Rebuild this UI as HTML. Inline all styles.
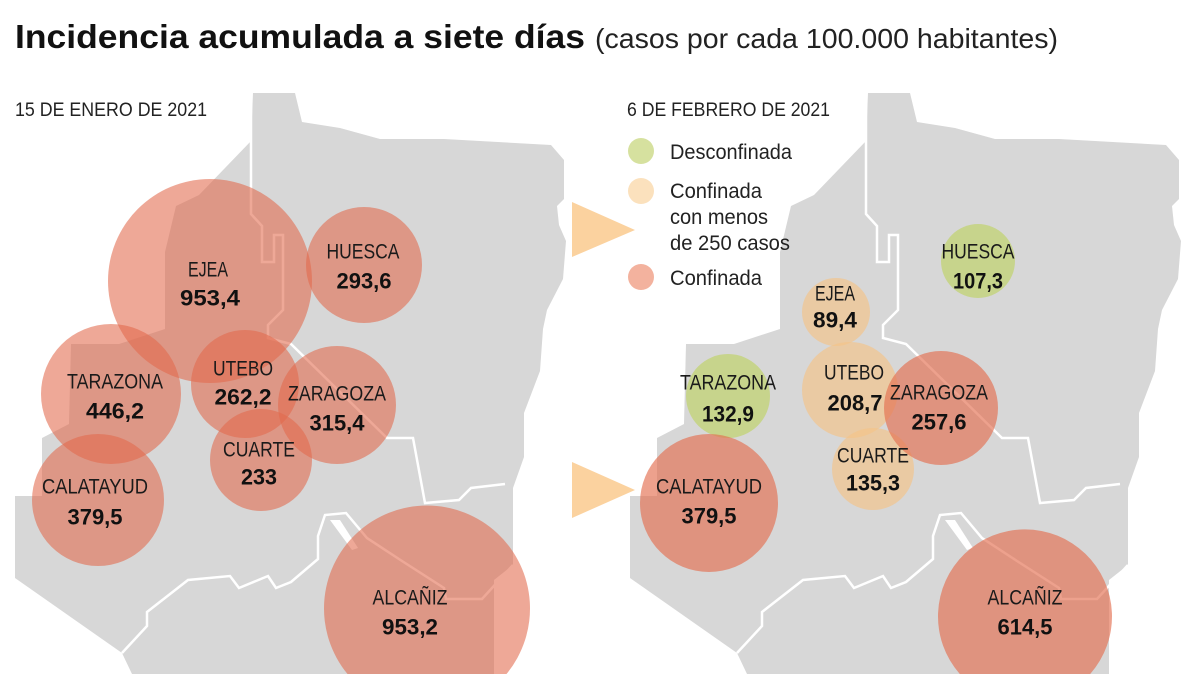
<!DOCTYPE html>
<html><head><meta charset="utf-8"><style>
html,body{margin:0;padding:0;background:#fff;width:1200px;height:675px;overflow:hidden;}
svg{display:block;overflow:hidden;font-family:"Liberation Sans Narrow","Liberation Sans",sans-serif;}
.n{font-size:21px;fill:#1a1a1a;}
.v{font-size:22px;font-weight:bold;fill:#111;}
</style></head><body>
<svg width="1200" height="675" viewBox="0 0 1200 675" xmlns="http://www.w3.org/2000/svg">
<defs>
<g id="map">
<polygon fill="#d7d7d7" points="253,93 295,93 302,122 340,128 380,139 444,139 551,145 564,160 564,199 557,206 559,225 566,241 563,279 547,310 543,329 540,371 524,413 524,457 513,488 513,565 494,580 494,674 132,674 122,653 15,578 15,496 42,496 42,438 69,424 71,344 119,344 165,329 165,252 176,206 199,195 251,141"/>
<polyline fill="none" stroke="#fff" stroke-width="2.5" points="251,93 251,214 262,226 262,262 274,262 274,235 283,235 283,310 268,325 268,338 291,344 387,438 413,438 425,503 459,500 471,488 505,484"/>
<polyline fill="none" stroke="#fff" stroke-width="2.5" points="122,653 147,626 147,612 188,580 230,576 239,588 268,576 276,588 291,582 318,559 318,536 325,515 346,513 367,538 402,561 444,588 446,599 482,599 513,565"/>
<polygon fill="#fff" points="330,520 340,520 358,548 352,550"/>
</g>
</defs>
<text x="15" y="48" font-size="33" font-weight="bold" fill="#111" textLength="570" lengthAdjust="spacingAndGlyphs">Incidencia acumulada a siete días</text>
<text x="595" y="48" font-size="28" fill="#222" textLength="463" lengthAdjust="spacingAndGlyphs">(casos por cada 100.000 habitantes)</text>
<text x="15" y="116" font-size="19" fill="#222" textLength="192" lengthAdjust="spacingAndGlyphs">15 DE ENERO DE 2021</text>
<text x="627" y="116" font-size="19" fill="#222" textLength="203" lengthAdjust="spacingAndGlyphs">6 DE FEBRERO DE 2021</text>

<use href="#map"/>
<use href="#map" transform="translate(615,0)"/>

<g fill="rgb(225,105,75)" fill-opacity="0.58">
<circle cx="210" cy="281" r="102"/>
<circle cx="364" cy="265" r="58"/>
<circle cx="111" cy="394" r="70"/>
<circle cx="245" cy="384" r="54"/>
<circle cx="337" cy="405" r="59"/>
<circle cx="261" cy="460" r="51"/>
<circle cx="98" cy="500" r="66"/>
<path d="M 347.5 674 A 103 103 0 1 1 506.5 674 Z"/>
</g>

<polygon fill="#fbd29f" points="572,202 635,230 572,257"/>
<polygon fill="#fbd29f" points="572,462 635,490 572,518"/>

<g fill-opacity="0.65">
<circle cx="978" cy="261" r="37" fill="rgb(190,210,100)"/>
<circle cx="728" cy="396" r="42" fill="rgb(190,210,100)"/>
<circle cx="836" cy="312" r="34" fill="rgb(245,195,135)"/>
<circle cx="850" cy="390" r="48" fill="rgb(245,195,135)"/>
<circle cx="873" cy="469" r="41" fill="rgb(245,195,135)"/>
<circle cx="941" cy="408" r="57" fill="rgb(228,110,80)"/>
<circle cx="709" cy="503" r="69" fill="rgb(228,110,80)"/>
<path d="M 959.8 674 A 87 87 0 1 1 1090.2 674 Z" fill="rgb(228,110,80)"/>
</g>

<circle cx="641" cy="151" r="13" fill="#d6e19f"/>
<circle cx="641" cy="191" r="13" fill="#fbe1bd"/>
<circle cx="641" cy="277" r="13" fill="#f3b29e"/>
<g font-size="21" fill="#222">
<text x="670" y="159" textLength="122" lengthAdjust="spacingAndGlyphs">Desconfinada</text>
<text x="670" y="198" textLength="92" lengthAdjust="spacingAndGlyphs">Confinada</text>
<text x="670" y="224" textLength="98" lengthAdjust="spacingAndGlyphs">con menos</text>
<text x="670" y="250" textLength="120" lengthAdjust="spacingAndGlyphs">de 250 casos</text>
<text x="670" y="285" textLength="92" lengthAdjust="spacingAndGlyphs">Confinada</text>
</g>

<g text-anchor="middle" dominant-baseline="central">
<text class="n" x="208" y="270" textLength="40" lengthAdjust="spacingAndGlyphs">EJEA</text>
<text class="v" x="210" y="298" textLength="60" lengthAdjust="spacingAndGlyphs">953,4</text>
<text class="n" x="363" y="252" textLength="73" lengthAdjust="spacingAndGlyphs">HUESCA</text>
<text class="v" x="364" y="281" textLength="55" lengthAdjust="spacingAndGlyphs">293,6</text>
<text class="n" x="115" y="382" textLength="96" lengthAdjust="spacingAndGlyphs">TARAZONA</text>
<text class="v" x="115" y="411" textLength="58" lengthAdjust="spacingAndGlyphs">446,2</text>
<text class="n" x="243" y="369" textLength="60" lengthAdjust="spacingAndGlyphs">UTEBO</text>
<text class="v" x="243" y="397" textLength="57" lengthAdjust="spacingAndGlyphs">262,2</text>
<text class="n" x="337" y="394" textLength="98" lengthAdjust="spacingAndGlyphs">ZARAGOZA</text>
<text class="v" x="337" y="423" textLength="55" lengthAdjust="spacingAndGlyphs">315,4</text>
<text class="n" x="259" y="450" textLength="72" lengthAdjust="spacingAndGlyphs">CUARTE</text>
<text class="v" x="259" y="477" textLength="36" lengthAdjust="spacingAndGlyphs">233</text>
<text class="n" x="95" y="487" textLength="106" lengthAdjust="spacingAndGlyphs">CALATAYUD</text>
<text class="v" x="95" y="517" textLength="55" lengthAdjust="spacingAndGlyphs">379,5</text>
<text class="n" x="410" y="598" textLength="75" lengthAdjust="spacingAndGlyphs">ALCAÑIZ</text>
<text class="v" x="410" y="627" textLength="56" lengthAdjust="spacingAndGlyphs">953,2</text>

<text class="n" x="978" y="252" textLength="73" lengthAdjust="spacingAndGlyphs">HUESCA</text>
<text class="v" x="978" y="281" textLength="50" lengthAdjust="spacingAndGlyphs">107,3</text>
<text class="n" x="835" y="294" textLength="40" lengthAdjust="spacingAndGlyphs">EJEA</text>
<text class="v" x="835" y="320" textLength="44" lengthAdjust="spacingAndGlyphs">89,4</text>
<text class="n" x="728" y="383" textLength="96" lengthAdjust="spacingAndGlyphs">TARAZONA</text>
<text class="v" x="728" y="414" textLength="52" lengthAdjust="spacingAndGlyphs">132,9</text>
<text class="n" x="854" y="373" textLength="60" lengthAdjust="spacingAndGlyphs">UTEBO</text>
<text class="v" x="855" y="403" textLength="55" lengthAdjust="spacingAndGlyphs">208,7</text>
<text class="n" x="939" y="393" textLength="98" lengthAdjust="spacingAndGlyphs">ZARAGOZA</text>
<text class="v" x="939" y="422" textLength="55" lengthAdjust="spacingAndGlyphs">257,6</text>
<text class="n" x="873" y="456" textLength="72" lengthAdjust="spacingAndGlyphs">CUARTE</text>
<text class="v" x="873" y="483" textLength="54" lengthAdjust="spacingAndGlyphs">135,3</text>
<text class="n" x="709" y="487" textLength="106" lengthAdjust="spacingAndGlyphs">CALATAYUD</text>
<text class="v" x="709" y="516" textLength="55" lengthAdjust="spacingAndGlyphs">379,5</text>
<text class="n" x="1025" y="598" textLength="75" lengthAdjust="spacingAndGlyphs">ALCAÑIZ</text>
<text class="v" x="1025" y="627" textLength="55" lengthAdjust="spacingAndGlyphs">614,5</text>
</g>
</svg>
</body></html>
